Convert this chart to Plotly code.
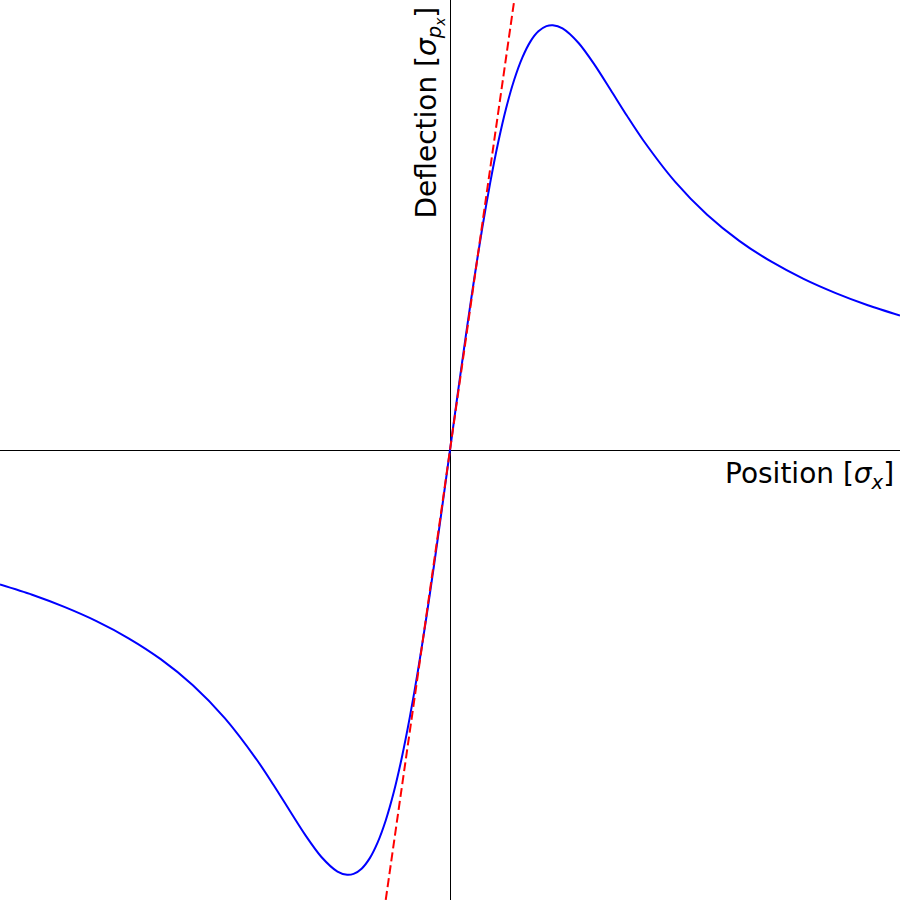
import plotly.graph_objects as go

# Deflection curve (x in sigma_x, y in sigma_px units)
pos_right = [0.0, 0.125, 0.25, 0.375, 0.5, 0.625, 0.75, 0.875, 1.0, 1.125, 1.25, 1.375,
             1.5, 1.6, 1.75, 2.0, 2.25, 2.5, 2.75, 3.0, 3.5, 4.0, 4.5, 5.0, 5.5, 6.0, 6.5, 7.0]
defl_right = [0.0, 0.0622, 0.1231, 0.1811, 0.2350, 0.2838, 0.3269, 0.3636, 0.3935, 0.4168, 0.4338, 0.4447,
              0.4502, 0.4512, 0.4478, 0.4323, 0.4091, 0.3824, 0.3553, 0.3296, 0.2851, 0.2499, 0.2222, 0.2000,
              0.1818, 0.1667, 0.1538, 0.1429]
pos_left = [-0.0, -0.125, -0.25, -0.375, -0.5, -0.625, -0.75, -0.875, -1.0, -1.125, -1.25, -1.375,
            -1.5, -1.6, -1.75, -2.0, -2.25, -2.5, -2.75, -3.0, -3.5, -4.0, -4.5, -5.0, -5.5, -6.0, -6.5, -7.0]
defl_left = [-0.0, -0.0622, -0.1231, -0.1811, -0.2350, -0.2838, -0.3269, -0.3636, -0.3935, -0.4168, -0.4338, -0.4447,
             -0.4502, -0.4512, -0.4478, -0.4323, -0.4091, -0.3824, -0.3553, -0.3296, -0.2851, -0.2499, -0.2222, -0.2000,
             -0.1818, -0.1667, -0.1538, -0.1429]

# Linear approximation (red dashed)
lin_x = [-1.2, 1.2]
lin_y = [-0.5736, 0.5736]

x_range = [-7.0, 7.0]
y_range = [-0.478, 0.478]

pos = pos_left[::-1] + pos_right[1:]
defl = defl_left[::-1] + defl_right[1:]

fig = go.Figure()
fig.add_trace(go.Scatter(x=pos, y=defl, mode="lines",
                         line=dict(color="blue", width=2, shape="spline", smoothing=0.8),
                         hoverinfo="skip", showlegend=False))
fig.add_trace(go.Scatter(x=lin_x, y=lin_y, mode="lines",
                         line=dict(color="red", width=2, dash="9px,4px"),
                         hoverinfo="skip", showlegend=False))

fig.update_xaxes(range=x_range, showgrid=False, showticklabels=False, ticks="",
                 zeroline=True, zerolinecolor="black", zerolinewidth=1, showline=False)
fig.update_yaxes(range=y_range, showgrid=False, showticklabels=False, ticks="",
                 zeroline=True, zerolinecolor="black", zerolinewidth=1, showline=False)

fig.update_layout(
    width=900, height=900,
    margin=dict(l=0, r=0, t=0, b=0),
    plot_bgcolor="white", paper_bgcolor="white",
    font=dict(family="DejaVu Sans", color="black", size=28),
    annotations=[
        dict(text="Position [<i>σ</i><sub><i>x</i></sub>]", xref="paper", yref="paper",
             x=1.0, y=0.5, xanchor="right", yanchor="top", xshift=-4, yshift=-5,
             showarrow=False, font=dict(size=28)),
        dict(text="Deflection [<i>σ</i><sub><i>p<sub>x</sub></i></sub>]", xref="paper", yref="paper",
             x=0.5, y=1.0, xanchor="right", yanchor="top", xshift=0, yshift=-5,
             textangle=-90, showarrow=False, font=dict(size=28)),
    ],
)

fig.write_html("out.html", config={"displayModeBar": False},
               post_script="document.body.style.margin='0';document.body.style.overflow='hidden';")
